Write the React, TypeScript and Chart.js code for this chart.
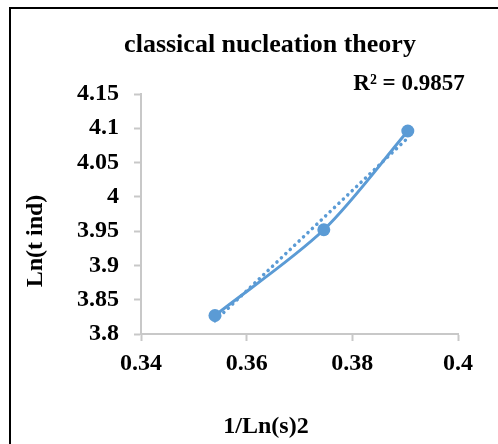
import React, { useEffect, useRef } from "react";
import { Chart, registerables } from "chart.js";

Chart.register(...registerables);

const xValues = [0.354, 0.3746, 0.3905];
const yValues = [3.827, 3.952, 4.096];
const xTicks = [0.34, 0.36, 0.38, 0.4];
const yTicks = [3.8, 3.85, 3.9, 3.95, 4.0, 4.05, 4.1, 4.15];
const chartTitle = "classical nucleation theory";
const r2Label = "R² = 0.9857";
const xTitle = "1/Ln(s)2";
const yTitle = "Ln(t ind)";

const FONT = "'Times New Roman', 'Liberation Serif', serif";
const BLUE = "#5B9BD5";

function linearFit(xs: number[], ys: number[]) {
  const n = xs.length;
  const mx = xs.reduce((a, b) => a + b, 0) / n;
  const my = ys.reduce((a, b) => a + b, 0) / n;
  let sxy = 0, sxx = 0;
  for (let i = 0; i < n; i++) {
    sxy += (xs[i] - mx) * (ys[i] - my);
    sxx += (xs[i] - mx) * (xs[i] - mx);
  }
  const m = sxy / sxx;
  return { m, b: my - m * mx };
}

const textPlugin = {
  id: "texts",
  afterDraw(chart: any) {
    const ctx = chart.ctx;
    ctx.save();
    ctx.fillStyle = "#000";
    ctx.textAlign = "center";
    ctx.textBaseline = "middle";
    ctx.font = `bold 26px ${FONT}`;
    ctx.fillText(chartTitle, 270, 45);
    ctx.font = `bold 23px ${FONT}`;
    ctx.fillText(r2Label, 409, 84);
    ctx.font = `bold 24px ${FONT}`;
    ctx.fillText(xTitle, 266, 427);
    ctx.translate(36, 241);
    ctx.rotate(-Math.PI / 2);
    ctx.fillText(yTitle, 0, 0);
    ctx.restore();
  },
};

export default function App() {
  const ref = useRef<HTMLCanvasElement | null>(null);
  useEffect(() => {
    if (!ref.current) return;
    const fit = linearFit(xValues, yValues);
    const xmin = Math.min(...xValues);
    const xmax = Math.max(...xValues);
    const trend = [
      { x: xmin, y: fit.m * xmin + fit.b },
      { x: xmax, y: fit.m * xmax + fit.b },
    ];
    const chart = new Chart(ref.current, {
      type: "scatter",
      data: {
        datasets: [
          {
            label: "data",
            data: xValues.map((x, i) => ({ x, y: yValues[i] })),
            showLine: true,
            borderColor: BLUE,
            backgroundColor: BLUE,
            borderWidth: 3,
            tension: 0.3,
            pointRadius: 6.5,
            pointBorderWidth: 0,
          },
          {
            label: "trend",
            data: trend,
            showLine: true,
            borderColor: BLUE,
            borderWidth: 3.5,
            borderDash: [0.1, 6],
            borderCapStyle: "round",
            pointRadius: 0,
            tension: 0,
          },
        ],
      },
      options: {
        responsive: false,
        animation: false,
        layout: { padding: { left: 10, top: 94, right: 40, bottom: 0 } },
        plugins: { legend: { display: false }, tooltip: { enabled: false }, title: { display: false } },
        scales: {
          x: {
            type: "linear",
            min: 0.34,
            max: 0.4,
            afterFit: (s: any) => { s.height = 110; },
            afterBuildTicks: (s: any) => { s.ticks = xTicks.map((v) => ({ value: v })); },
            grid: { drawOnChartArea: false, color: "#c8c8c8", tickLength: 7, tickWidth: 2 },
            border: { color: "#c8c8c8", width: 2 },
            ticks: {
              color: "#000",
              padding: 8,
              maxRotation: 0,
              font: { family: FONT, size: 24, weight: "bold" },
              callback: (v: any) => String(Number(Number(v).toFixed(2))),
            },
          },
          y: {
            type: "linear",
            min: 3.8,
            max: 4.15,
            afterFit: (s: any) => { s.width = 131; },
            afterBuildTicks: (s: any) => { s.ticks = yTicks.map((v) => ({ value: v })); },
            grid: { drawOnChartArea: false, color: "#c8c8c8", tickLength: 7, tickWidth: 2 },
            border: { color: "#c8c8c8", width: 2 },
            ticks: {
              color: "#000",
              padding: 15,
              font: { family: FONT, size: 24, weight: "bold" },
              callback: (v: any) => String(Number(Number(v).toFixed(2))),
            },
          },
        },
      } as any,
      plugins: [textPlugin],
    });
    return () => chart.destroy();
  }, []);
  return (
    <div style={{ position: "absolute", left: 0, top: 0, width: 498, height: 444, overflow: "hidden", background: "#fff" }}>
      <div style={{ position: "absolute", left: 9, top: 7, width: 600, height: 600, borderLeft: "2px solid #000", borderTop: "2px solid #000" }} />
      <canvas ref={ref} width={498} height={444} style={{ position: "absolute", left: 0, top: 0 }} />
    </div>
  );
}
